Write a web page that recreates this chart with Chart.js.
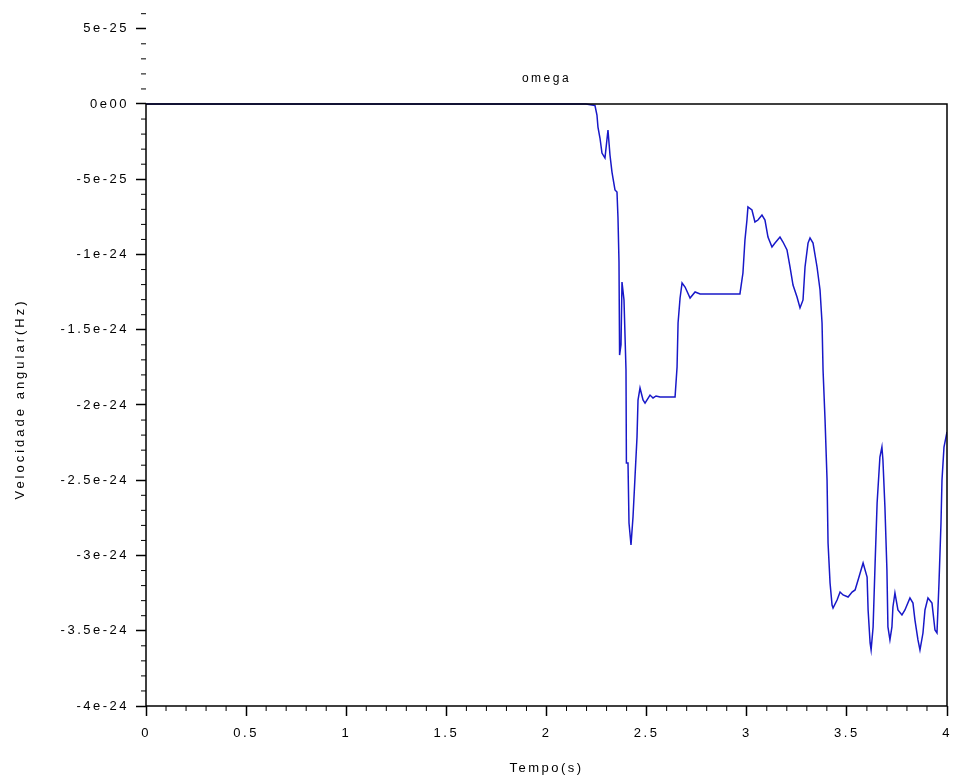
<!DOCTYPE html>
<html>
<head>
<meta charset="utf-8">
<title>omega</title>
<script src="https://cdn.jsdelivr.net/npm/chart.js@4.4.1/dist/chart.umd.min.js"></script>
<style>
  html, body { margin: 0; padding: 0; background: #fff; }
</style>
</head>
<body>
<canvas id="omegaChart" width="956" height="782"></canvas>
<script>
// tempo (s) e omega (Hz)
const tempo = [
  0, 2.197, 2.242, 2.252, 2.257, 2.267, 2.277, 2.292, 2.307, 2.317,
  2.327, 2.332, 2.342, 2.352, 2.357, 2.362, 2.365, 2.372, 2.377, 2.387,
  2.397, 2.399, 2.407, 2.412, 2.422, 2.432, 2.442, 2.452, 2.457, 2.467,
  2.482, 2.492, 2.517, 2.532, 2.547, 2.567, 2.642, 2.652, 2.657, 2.667,
  2.677, 2.692, 2.717, 2.742, 2.767, 2.966, 2.976, 2.981, 2.991, 3.001,
  3.006, 3.026, 3.041, 3.056, 3.076, 3.091, 3.106, 3.126, 3.141, 3.166,
  3.181, 3.201, 3.216, 3.231, 3.251, 3.266, 3.281, 3.291, 3.306, 3.316,
  3.331, 3.351, 3.366, 3.376, 3.381, 3.391, 3.401, 3.406, 3.416, 3.426,
  3.431, 3.451, 3.466, 3.481, 3.506, 3.526, 3.541, 3.556, 3.581, 3.601,
  3.606, 3.616, 3.621, 3.631, 3.641, 3.651, 3.665, 3.675, 3.680, 3.690,
  3.700, 3.705, 3.715, 3.725, 3.730, 3.740, 3.755, 3.775, 3.790, 3.815,
  3.830, 3.840, 3.855, 3.865, 3.880, 3.890, 3.905, 3.925, 3.940, 3.950,
  3.960, 3.970, 3.975, 3.985, 4.0
];
const omega = [
  0, 0, -0.010e-24, -0.073e-24, -0.153e-24, -0.226e-24, -0.326e-24, -0.359e-24, -0.173e-24, -0.339e-24,
  -0.452e-24, -0.492e-24, -0.571e-24, -0.585e-24, -0.757e-24, -1.050e-24, -1.668e-24, -1.600e-24, -1.183e-24, -1.302e-24,
  -1.767e-24, -2.385e-24, -2.385e-24, -2.784e-24, -2.930e-24, -2.744e-24, -2.478e-24, -2.213e-24, -1.967e-24, -1.887e-24,
  -1.967e-24, -1.987e-24, -1.934e-24, -1.953e-24, -1.940e-24, -1.947e-24, -1.947e-24, -1.748e-24, -1.455e-24, -1.289e-24,
  -1.189e-24, -1.216e-24, -1.289e-24, -1.249e-24, -1.262e-24, -1.262e-24, -1.169e-24, -1.123e-24, -0.904e-24, -0.771e-24,
  -0.684e-24, -0.704e-24, -0.784e-24, -0.771e-24, -0.738e-24, -0.771e-24, -0.884e-24, -0.950e-24, -0.924e-24, -0.884e-24,
  -0.917e-24, -0.970e-24, -1.083e-24, -1.203e-24, -1.282e-24, -1.355e-24, -1.302e-24, -1.083e-24, -0.924e-24, -0.890e-24,
  -0.924e-24, -1.083e-24, -1.236e-24, -1.455e-24, -1.767e-24, -2.100e-24, -2.498e-24, -2.917e-24, -3.183e-24, -3.329e-24,
  -3.349e-24, -3.296e-24, -3.243e-24, -3.262e-24, -3.276e-24, -3.243e-24, -3.229e-24, -3.163e-24, -3.050e-24, -3.143e-24,
  -3.362e-24, -3.581e-24, -3.628e-24, -3.475e-24, -3.050e-24, -2.651e-24, -2.346e-24, -2.279e-24, -2.365e-24, -2.678e-24,
  -3.096e-24, -3.475e-24, -3.561e-24, -3.475e-24, -3.342e-24, -3.249e-24, -3.362e-24, -3.395e-24, -3.362e-24, -3.282e-24,
  -3.316e-24, -3.429e-24, -3.561e-24, -3.628e-24, -3.515e-24, -3.362e-24, -3.282e-24, -3.316e-24, -3.495e-24, -3.515e-24,
  -3.183e-24, -2.784e-24, -2.498e-24, -2.279e-24, -2.179e-24
];

const xTicks = [0, 0.5, 1, 1.5, 2, 2.5, 3, 3.5, 4];
const xTickLabels = ["0", "0.5", "1", "1.5", "2", "2.5", "3", "3.5", "4"];
const yTicks = [-4e-24, -3.5e-24, -3e-24, -2.5e-24, -2e-24, -1.5e-24, -1e-24, -0.5e-24, 0, 0.5e-24];
const yTickLabels = ["-4e-24", "-3.5e-24", "-3e-24", "-2.5e-24", "-2e-24", "-1.5e-24", "-1e-24", "-5e-25", "0e00", "5e-25"];

const chartTitle = "omega";
const xTitle = "Tempo(s)";
const yTitle = "Velocidade angular(Hz)";

const FONT = "'Liberation Sans', Arial, sans-serif";
const SPACING = "2.5px";

// moldura estilo Scilab: caixa a partir de 0, ticks menores, títulos
const scilabFrame = {
  id: "scilabFrame",
  beforeDraw(chart) {
    chart.ctx.letterSpacing = SPACING;
  },
  afterDraw(chart) {
    const { ctx, scales: { x, y } } = chart;
    const y0 = y.getPixelForValue(0);
    const yb = y.getPixelForValue(-4e-24);
    const xl = x.getPixelForValue(0);
    const xr = x.getPixelForValue(4);

    ctx.save();
    ctx.strokeStyle = "#000";
    ctx.lineWidth = 1.5;
    ctx.beginPath();
    ctx.moveTo(xl, yb);
    ctx.lineTo(xl, y0);
    ctx.lineTo(xr, y0);
    ctx.lineTo(xr, yb);
    ctx.closePath();
    ctx.stroke();

    ctx.lineWidth = 1;
    ctx.beginPath();
    for (let i = 0; i <= 40; i++) {
      if (i % 5 === 0) continue;
      const px = x.getPixelForValue(i / 10);
      ctx.moveTo(px, yb);
      ctx.lineTo(px, yb + 5);
    }
    for (let i = -40; i <= 6; i++) {
      if (i % 5 === 0) continue;
      const py = y.getPixelForValue(i * 1e-25);
      ctx.moveTo(xl, py);
      ctx.lineTo(xl - 5, py);
    }
    ctx.stroke();

    ctx.fillStyle = "#000";
    ctx.textAlign = "center";
    ctx.textBaseline = "middle";
    ctx.font = "12px " + FONT;
    ctx.fillText(chartTitle, (xl + xr) / 2, y0 - 25);

    ctx.translate(20, (y0 + yb) / 2 - 6);
    ctx.rotate(-Math.PI / 2);
    ctx.letterSpacing = "3px";
    ctx.font = "13px " + FONT;
    ctx.fillText(yTitle, 0, 0);
    ctx.restore();
  }
};

new Chart(document.getElementById("omegaChart"), {
  type: "scatter",
  data: {
    datasets: [{
      label: "omega",
      data: tempo.map((t, i) => ({ x: t, y: omega[i] })),
      showLine: true,
      borderColor: "rgb(24, 24, 200)",
      borderWidth: 1.5,
      pointRadius: 0,
      tension: 0,
      fill: false
    }]
  },
  options: {
    responsive: false,
    devicePixelRatio: 1,
    animation: false,
    layout: { padding: { left: 0, right: 9, top: 13.7, bottom: 0 } },
    plugins: {
      legend: { display: false },
      tooltip: { enabled: false }
    },
    scales: {
      x: {
        type: "linear",
        min: 0,
        max: 4,
        afterBuildTicks: (scale) => { scale.ticks = xTicks.map((v) => ({ value: v })); },
        afterFit: (scale) => {
          scale.height = 76;
          scale.paddingLeft = 0;
          scale.paddingRight = 0;
        },
        ticks: {
          callback: (v, i) => xTickLabels[i],
          color: "#000",
          font: { family: FONT, size: 13 },
          padding: 10,
          maxRotation: 0
        },
        grid: {
          drawOnChartArea: false,
          drawTicks: true,
          tickLength: 10,
          tickColor: "#000",
          tickWidth: 1.5
        },
        border: { display: false },
        title: {
          display: true,
          text: xTitle,
          color: "#000",
          font: { family: FONT, size: 13 },
          padding: { top: 0, bottom: 6 }
        }
      },
      y: {
        type: "linear",
        min: -4e-24,
        max: 6e-25,
        afterBuildTicks: (scale) => { scale.ticks = yTicks.map((v) => ({ value: v })); },
        afterFit: (scale) => {
          scale.width = 146;
          scale.paddingTop = 0;
          scale.paddingBottom = 0;
        },
        ticks: {
          callback: (v, i) => yTickLabels[i],
          color: "#000",
          font: { family: FONT, size: 13 },
          padding: 7
        },
        grid: {
          drawOnChartArea: false,
          drawTicks: true,
          tickLength: 10,
          tickColor: "#000",
          tickWidth: 1.5
        },
        border: { display: false },
        title: { display: false }
      }
    }
  },
  plugins: [scilabFrame]
});
</script>
</body>
</html>
